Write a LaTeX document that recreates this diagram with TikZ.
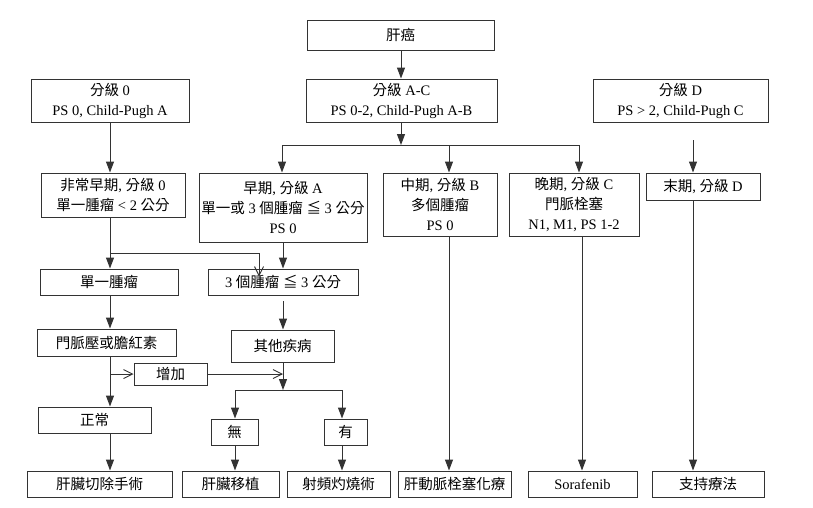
\documentclass[tikz,border=0pt]{standalone}
\usepackage{fontspec}
\setmainfont{Liberation Serif}
\newfontfamily\cjkfont{Noto Sans CJK TC}
\newcommand\cj[1]{{\cjkfont #1}}
\usetikzlibrary{arrows.meta}
\definecolor{ln}{HTML}{333333}
\begin{document}
\begin{tikzpicture}[x=1pt,y=-1pt,
  box/.style 2 args={draw=ln, line width=1pt, inner sep=0pt, align=center,
     font=\fontsize{14.5}{20}\selectfont, minimum width=#1pt, minimum height=#2pt},
  arr/.style={draw=ln, line width=1pt, -{Triangle[length=11pt,width=8pt]}},
  oarr/.style={draw=ln, line width=0.9pt, -{Straight Barb[length=9pt,width=9pt]}},
  lnk/.style={draw=ln, line width=1pt}]
\fill[white] (0,0) rectangle (813,507);
\useasboundingbox (0,0) rectangle (813,507);

% boxes
\node[box={187}{30}] (root) at (400.5,35) {\cj{肝癌}};
\node[box={158}{43}] (g0) at (110,100.5) {\cj{分級} 0\\PS 0, Child-Pugh A};
\node[box={191}{43}] (gAC) at (401.5,100.5) {\cj{分級} A-C\\PS 0-2, Child-Pugh A-B};
\node[box={175}{43}] (gD) at (680.5,100.5) {\cj{分級} D\\PS > 2, Child-Pugh C};

\node[box={144}{44}] (vearly) at (113,195) {\cj{非常早期}, \cj{分級} 0\\\cj{單一腫瘤} < 2 \cj{公分}};
\node[box={168}{69}] (early) at (283,207.5) {\cj{早期}, \cj{分級} A\\\cj{單一或} 3 \cj{個腫瘤} \cj{≦} 3 \cj{公分}\\PS 0};
\node[box={114}{63}] (mid) at (440,204.5) {\cj{中期}, \cj{分級} B\\\cj{多個腫瘤}\\PS 0};
\node[box={130}{63}] (adv) at (574,204.5) {\cj{晚期}, \cj{分級} C\\\cj{門脈栓塞}\\N1, M1, PS 1-2};
\node[box={114}{27}] (term) at (703,186.5) {\cj{末期}, \cj{分級} D};

\node[box={138}{26}] (single) at (109,282) {\cj{單一腫瘤}};
\node[box={150}{26}] (three) at (283,282) {3 \cj{個腫瘤} \cj{≦} 3 \cj{公分}};
\node[box={139}{27}] (portal) at (106.5,342.5) {\cj{門脈壓或膽紅素}};
\node[box={103}{32}] (other) at (282.5,346) {\cj{其他疾病}};
\node[box={73}{22}] (inc) at (170.5,374) {\cj{增加}};
\node[box={113}{26}] (normal) at (94.5,420) {\cj{正常}};
\node[box={47}{26}] (none) at (234.5,432) {\cj{無}};
\node[box={43}{26}] (yes) at (345.5,432) {\cj{有}};

\node[box={145}{26}] (b1) at (99.5,484) {\cj{肝臟切除手術}};
\node[box={97}{26}] (b2) at (230.5,484) {\cj{肝臟移植}};
\node[box={103}{26}] (b3) at (338.5,484) {\cj{射頻灼燒術}};
\node[box={113}{26}] (b4) at (454.5,484) {\cj{肝動脈栓塞化療}};
\node[box={109}{26}] (b5) at (582.5,484) {Sorafenib};
\node[box={112}{26}] (b6) at (708,484) {\cj{支持療法}};

% coordinates
\coordinate (cL) at (110,0);
\coordinate (cE) at (283,0);
\coordinate (hA) at (401,145);
\coordinate (hL) at (282,145);
\coordinate (hM) at (449,145);
\coordinate (hR) at (579,145);
\coordinate (cS) at (582,0);
\coordinate (dT) at (693,140);
\coordinate (jV) at (110,253);
\coordinate (jVr) at (259,253);
\coordinate (tT) at (283,301);
\coordinate (jP) at (110,374);
\coordinate (jO) at (283,374);
\coordinate (jN) at (283,390);
\coordinate (jNl) at (235,390);
\coordinate (jNr) at (342,390);

% connectors
\draw[arr] (root.south -| hA) -- (gAC.north -| hA);
\draw[arr] (gAC.south -| hA) -- (hA);
\draw[lnk] (hL) -- (hR);
\draw[arr] (hL) -- (hL |- early.north);
\draw[arr] (hM) -- (hM |- mid.north);
\draw[arr] (hR) -- (hR |- adv.north);
\draw[arr] (dT) -- (dT |- term.north);

\draw[arr] (g0.south -| cL) -- (vearly.north -| cL);
\draw[arr] (vearly.south -| cL) -- (single.north -| cL);
\draw[lnk] (jV) -- (jVr);
\draw[oarr] (jVr) -- ([yshift=-8pt]jVr |- three.north);
\draw[arr] (early.south -| cE) -- (three.north -| cE);
\draw[arr] (single.south -| cL) -- (portal.north -| cL);
\draw[arr] (tT) -- (tT |- other.north);
\draw[arr] (portal.south -| cL) -- (normal.north -| cL);
\draw[oarr] (jP) -- (inc.west);
\draw[oarr] (inc.east) -- (jO);
\draw[arr] (other.south -| cE) -- (jN);
\draw[lnk] (jNl) -- (jNr);
\draw[arr] (jNl) -- (jNl |- none.north);
\draw[arr] (jNr) -- (jNr |- yes.north);
\draw[arr] (none.south -| jNl) -- (b2.north -| jNl);
\draw[arr] (yes.south -| jNr) -- (b3.north -| jNr);
\draw[arr] (normal.south -| cL) -- (b1.north -| cL);
\draw[arr] (mid.south -| hM) -- (b4.north -| hM);
\draw[arr] (adv.south -| cS) -- (b5.north -| cS);
\draw[arr] (term.south -| dT) -- (b6.north -| dT);
\end{tikzpicture}
\end{document}
